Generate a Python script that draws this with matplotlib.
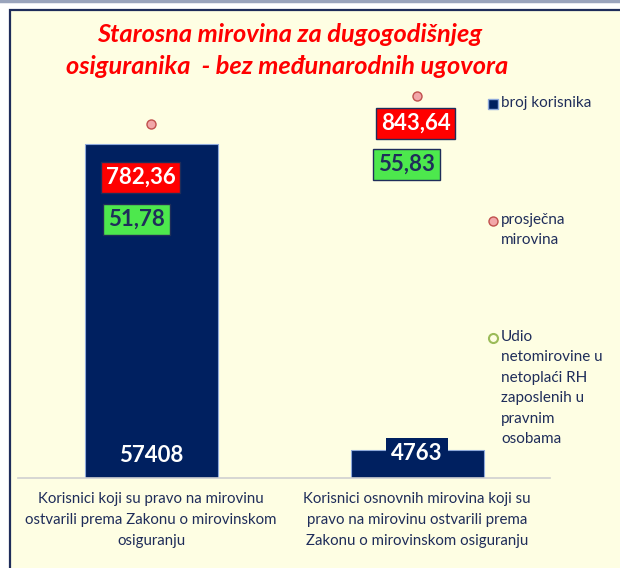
import matplotlib
matplotlib.use("Agg")
import matplotlib.pyplot as plt
from matplotlib.patches import Rectangle
from matplotlib.lines import Line2D

plt.rcParams["font.family"] = ["Lato", "DejaVu Sans"]

# data
categories = ["Korisnici koji su pravo na mirovinu\nostvarili prema Zakonu o mirovinskom\nosiguranju",
              "Korisnici osnovnih mirovina koji su\npravo na mirovinu ostvarili prema\nZakonu o mirovinskom osiguranju"]
broj_korisnika = [57408, 4763]
prosjecna_mirovina = [782.36, 843.64]
udio_netoplaca = [51.78, 55.83]

NAVY = "#002060"
TXT = "#1F2D5A"
BG = "#FEFEE3"

fig = plt.figure(figsize=(6.2, 5.68), dpi=100)
fig.patch.set_facecolor("white")

# panel behind the chart
fig.add_artist(Rectangle((10 / 620, -0.05), 1.0, 1 - 10 / 568 + 0.05,
                         transform=fig.transFigure, facecolor=BG,
                         edgecolor="#1F2D5A", linewidth=1.6, zorder=-10))
fig.add_artist(Line2D([0, 1], [1 - 1 / 568, 1 - 1 / 568], transform=fig.transFigure,
                      color="#9AA4BC", linewidth=2.5))

ax = fig.add_axes([18 / 620, 90 / 568, 532 / 620, 407 / 568])
ax.set_facecolor("none")
x = list(range(len(categories)))
bars = ax.bar(x, broj_korisnika, width=0.5, color=NAVY, edgecolor="#8EA9DB",
              linewidth=0.8, zorder=2)
ax.set_xlim(-0.5, 1.5)
ax.set_ylim(0, 70000)
for s in ["top", "left", "right"]:
    ax.spines[s].set_visible(False)
ax.spines["bottom"].set_color("#D0D0D0")
ax.spines["bottom"].set_linewidth(1.2)
ax.set_yticks([])
ax.set_xticks(x)
ax.set_xticklabels(categories, fontsize=10.8, color=TXT, linespacing=1.66)
ax.tick_params(axis="x", length=0, pad=10)

# labels of the bars
ax.annotate(f"{broj_korisnika[0]}", (x[0], 0), xytext=(0, 16), textcoords="offset points",
            ha="center", va="center", color="white", fontsize=16, fontweight="bold")
ax.annotate(f"{broj_korisnika[1]}", (x[1], 0), xytext=(0, 17.5), textcoords="offset points",
            ha="center", va="center", color="white", fontsize=16, fontweight="bold",
            bbox=dict(boxstyle="square,pad=0.22", facecolor=NAVY, edgecolor="none"), zorder=5)

# average pension on secondary axis
ax2 = ax.twinx()
ax2.set_ylim(0, 900)
ax2.axis("off")
ax2.plot(x, prosjecna_mirovina, linestyle="none", marker="o", markersize=6.5,
         markerfacecolor="#F2A7A9", markeredgecolor="#C0504D", markeredgewidth=1.0)
red_offsets = [(-7.5, -38.5), (-1, -19.5)]
for xi, v, off in zip(x, prosjecna_mirovina, red_offsets):
    ax2.annotate(f"{v:.2f}".replace(".", ","), (xi, v), xytext=off, textcoords="offset points",
                 ha="center", va="center", color="white", fontsize=16, fontweight="bold",
                 bbox=dict(boxstyle="square,pad=0.22", facecolor="#FF0000",
                           edgecolor=TXT, linewidth=1.0))

# share of net pension in net wage
ax3 = ax.twinx()
ax3.set_ylim(32.75, 62.71)
ax3.axis("off")
ax3.plot(x, udio_netoplaca, linestyle="none", marker="o", markersize=6.5,
         markerfacecolor="#FEFEE3", markeredgecolor="#9BBB59", markeredgewidth=1.5)
green_offsets = [(-10.5, 0), (-7.5, 0)]
for xi, v, off in zip(x, udio_netoplaca, green_offsets):
    ax3.annotate(f"{v:.2f}".replace(".", ","), (xi, v), xytext=off, textcoords="offset points",
                 ha="center", va="center", color=TXT, fontsize=16, fontweight="bold",
                 bbox=dict(boxstyle="square,pad=0.22", facecolor="#4DE84D",
                           edgecolor=TXT, linewidth=1.0))

# title
fig.text(290 / 620, 1 - 35 / 568, "Starosna mirovina za dugogodišnjeg",
         ha="center", va="center", color="#FF0000", fontsize=18.3,
         fontweight="bold", fontstyle="italic")
fig.text(287 / 620, 1 - 66 / 568, "osiguranika  - bez međunarodnih ugovora",
         ha="center", va="center", color="#FF0000", fontsize=18.3,
         fontweight="bold", fontstyle="italic")

# legend
legend_items = [
    (104, "s", NAVY, "#8EA9DB", 1.0, "broj korisnika"),
    (221, "o", "#F2A7A9", "#C0504D", 1.0, "prosječna\nmirovina"),
    (338, "o", BG, "#9BBB59", 1.5, "Udio\nnetomirovine u\nnetoplaći RH\nzaposlenih u\npravnim\nosobama"),
]
for ypx, mk, fc, ec, ew, label in legend_items:
    yf = 1 - ypx / 568
    fig.add_artist(Line2D([493 / 620], [yf], transform=fig.transFigure, marker=mk,
                          markersize=6.5, markerfacecolor=fc, markeredgecolor=ec,
                          markeredgewidth=ew, linestyle="none"))
    fig.text(501 / 620, yf + 8 / 568, label, ha="left", va="top", color=TXT,
             fontsize=11, linespacing=1.58)

fig.savefig("out.png", dpi=100)
